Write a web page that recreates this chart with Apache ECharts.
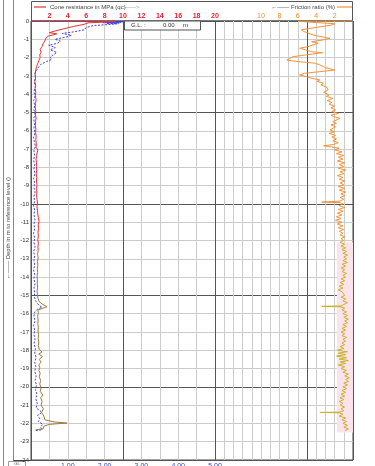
<!DOCTYPE html>
<html><head><meta charset="utf-8">
<script src="https://cdn.jsdelivr.net/npm/echarts@6/dist/echarts.min.js"></script>
<style>html,body{margin:0;padding:0;background:#fff}#c{width:375px;height:466px}</style>
</head><body><div id="c"></div>
<script>
// ---------- DATA ----------
const qcTicks = [2, 4, 6, 8, 10, 12, 14, 16, 18, 20];
const frTicks = [2, 4, 6, 8, 10];
const fsTicks = [1, 2, 3, 4, 5];
// [depth (m), cone resistance qc (MPa)]
const qcUpper = [[0.00,0.0],[0.01,6.0],[0.03,9.2],[0.06,8.0],[0.10,6.2],[0.18,5.8],[0.30,4.6],[0.42,3.6],[0.55,2.6],[0.64,2.0],[0.70,2.8],[0.76,2.4],[0.82,1.9],[0.95,1.6],[1.10,1.5],[1.25,1.3],[1.40,1.2],[1.55,1.0],[1.70,1.1],[1.85,0.95],[2.00,1.0],[2.15,0.85],[2.30,0.75],[2.50,0.6],[2.70,0.5],[2.90,0.45],[3.10,0.5],[3.30,0.42],[3.50,0.5],[3.70,0.45],[3.90,0.52],[4.10,0.47],[4.30,0.55],[4.50,0.5],[4.70,0.45],[4.90,0.52],[5.10,0.48],[5.30,0.55],[5.50,0.5],[5.70,0.47],[5.90,0.53],[6.10,0.5],[6.30,0.56],[6.50,0.52],[6.70,0.58],[6.90,0.55],[7.05,0.75],[7.15,0.55],[7.35,0.6],[7.55,0.55],[7.75,0.6],[7.95,0.58],[8.15,0.62],[8.35,0.57],[8.55,0.62],[8.75,0.6],[8.95,0.65],[9.15,0.6],[9.35,0.64],[9.55,0.6],[9.75,0.66],[9.95,0.7],[10.15,0.65],[10.35,0.7],[10.55,0.74],[10.75,0.8],[10.95,0.88],[11.15,0.78],[11.35,0.82],[11.55,0.76],[11.75,0.8],[11.95,0.74],[12.15,0.8],[12.35,0.75],[12.55,0.78]];
const qcLower = [[12.55,0.78],[12.75,0.72],[12.95,0.78],[13.15,0.7],[13.35,0.75],[13.55,0.68],[13.75,0.72],[13.95,0.66],[14.15,0.7],[14.35,0.68],[14.55,0.72],[14.75,0.66],[14.95,0.7],[15.15,0.75],[15.35,0.9],[15.50,1.3],[15.62,1.75],[15.72,1.2],[15.80,0.75],[15.95,0.8],[16.15,0.72],[16.35,0.78],[16.55,0.74],[16.75,0.8],[16.95,0.76],[17.15,0.82],[17.35,0.78],[17.55,0.85],[17.75,0.8],[17.95,0.9],[18.10,1.2],[18.20,0.85],[18.35,1.25],[18.50,0.9],[18.65,1.1],[18.80,0.85],[18.95,0.95],[19.10,0.85],[19.25,1.0],[19.45,0.9],[19.65,1.05],[19.85,0.95],[20.05,1.1],[20.25,1.0],[20.45,1.3],[20.60,1.05],[20.80,1.2],[21.00,1.1],[21.20,1.35],[21.40,1.15],[21.60,1.4],[21.80,1.5],[21.92,2.5],[21.98,3.9],[22.05,2.0],[22.15,1.4],[22.30,1.3],[22.35,0.5]];
// [depth (m), blue dashed trace (bottom axis units)]
const fsTrace = [[0.00,0.05],[0.01,2.3],[0.03,1.9],[0.04,2.5],[0.06,2.0],[0.07,2.45],[0.09,1.95],[0.11,2.4],[0.13,2.05],[0.15,2.35],[0.18,2.2],[0.25,1.7],[0.35,1.5],[0.48,1.45],[0.58,1.2],[0.68,0.85],[0.78,1.1],[0.88,0.95],[1.00,0.65],[1.10,0.8],[1.22,0.72],[1.32,0.48],[1.45,0.66],[1.58,0.52],[1.72,0.7],[1.85,0.6],[1.98,0.52],[2.10,0.56],[2.22,0.42],[2.38,0.26],[2.55,0.2],[2.72,0.14],[2.90,0.1],[3.10,0.12],[3.35,0.09],[3.6,0.12],[3.85,0.08],[4.1,0.11],[4.35,0.07],[4.6,0.1],[4.85,0.08],[5.1,0.11],[5.35,0.07],[5.6,0.1],[5.85,0.08],[6.1,0.11],[6.35,0.07],[6.6,0.09],[6.85,0.12],[7.1,0.08],[7.35,0.1],[7.6,0.07],[7.85,0.1],[8.1,0.08],[8.35,0.11],[8.6,0.07],[8.85,0.1],[9.1,0.08],[9.35,0.11],[9.6,0.08],[9.85,0.1],[10.1,0.07],[10.35,0.1],[10.6,0.08],[10.85,0.11],[11.1,0.08],[11.35,0.1],[11.6,0.07],[11.85,0.1],[12.1,0.08],[12.35,0.11],[12.6,0.07],[12.85,0.1],[13.1,0.08],[13.35,0.1],[13.6,0.07],[13.85,0.1],[14.1,0.08],[14.35,0.11],[14.6,0.08],[14.85,0.1],[15.1,0.09],[15.35,0.14],[15.55,0.22],[15.65,0.3],[15.75,0.18],[15.9,0.1],[16.15,0.08],[16.4,0.11],[16.65,0.07],[16.9,0.1],[17.15,0.08],[17.4,0.11],[17.65,0.08],[17.9,0.12],[18.15,0.1],[18.4,0.14],[18.65,0.1],[18.9,0.13],[19.15,0.1],[19.4,0.14],[19.65,0.11],[19.9,0.15],[20.15,0.12],[20.4,0.16],[20.65,0.13],[20.9,0.17],[21.15,0.14],[21.4,0.3],[21.55,0.18],[21.75,0.24],[21.9,0.2],[22.05,0.32],[22.2,0.26],[22.35,0.3],[22.4,0.1]];
// [depth (m), friction ratio (%)]
const frUpper = [[0.00,0.0],[0.02,5.9],[0.08,5.9],[0.15,2.0],[0.22,2.3],[0.35,4.0],[0.49,5.6],[0.58,5.3],[0.67,5.5],[0.77,4.3],[0.95,2.5],[1.05,3.4],[1.13,4.5],[1.22,3.8],[1.40,4.9],[1.49,5.8],[1.60,5.0],[1.68,4.5],[1.73,3.3],[1.86,5.2],[1.95,6.5],[2.05,6.9],[2.13,7.2],[2.20,6.3],[2.25,5.3],[2.31,4.1],[2.40,3.6],[2.55,3.0],[2.68,2.0],[2.77,3.6],[2.86,5.3],[2.95,5.8],[3.05,5.0],[3.13,4.5],[3.22,3.6],[3.30,3.9],[3.40,3.2],[3.50,3.5],[3.60,2.9],[3.70,3.1],[3.77,2.7],[3.90,3.2],[4.04,2.6],[4.12,2.9],[4.23,2.2],[4.35,2.8],[4.45,2.3],[4.55,2.6],[4.65,2.0],[4.75,2.4],[4.86,1.9],[4.95,2.3],[5.05,1.6],[5.15,2.4],[5.23,2.1],[5.32,1.4],[5.41,1.2],[5.50,2.2],[5.60,1.8],[5.68,2.4],[5.78,1.9],[5.86,1.7],[5.96,2.5],[6.05,2.0],[6.15,2.6],[6.25,1.9],[6.35,2.3],[6.45,1.8],[6.55,2.2],[6.65,1.6],[6.75,2.1],[6.82,3.2],[6.88,2.4],[6.95,1.5],[7.05,2.0],[7.15,1.2],[7.25,1.8],[7.35,1.0],[7.45,1.6],[7.55,1.1],[7.65,1.7],[7.75,0.9],[7.85,1.5],[7.95,1.0],[8.05,1.6],[8.15,0.8],[8.25,1.4],[8.35,1.0],[8.45,1.7],[8.55,1.1],[8.65,1.5],[8.75,0.9],[8.85,1.4],[8.95,1.0],[9.05,1.6],[9.15,0.9],[9.25,1.5],[9.35,0.8],[9.45,1.3],[9.55,0.9],[9.65,1.4],[9.75,1.0],[9.85,1.5],[9.90,3.4],[9.93,1.4],[10.00,1.1],[10.10,1.5],[10.20,0.9],[10.30,1.6],[10.40,1.1],[10.50,1.7],[10.60,1.2],[10.70,1.8],[10.80,1.3],[10.90,1.9],[11.00,1.2],[11.10,1.7],[11.20,1.1],[11.30,1.6],[11.40,1.0],[11.50,1.5],[11.60,1.1],[11.70,1.4],[11.80,0.9],[11.90,1.3]];
const frLower = [[11.90,1.3],[12.00,1.0],[12.10,1.4],[12.20,0.9],[12.30,1.3],[12.40,0.8],[12.50,1.2],[12.60,0.7],[12.70,1.1],[12.80,0.6],[12.90,1.0],[13.00,0.7],[13.10,1.1],[13.20,0.6],[13.30,1.2],[13.40,0.8],[13.50,1.3],[13.60,0.9],[13.70,1.2],[13.80,0.7],[13.90,1.1],[14.00,0.8],[14.10,1.3],[14.20,0.9],[14.30,1.4],[14.40,1.0],[14.50,1.5],[14.60,1.1],[14.70,1.6],[14.80,1.2],[14.90,1.4],[15.00,0.9],[15.10,1.3],[15.20,0.8],[15.30,1.1],[15.40,0.6],[15.50,1.0],[15.58,1.3],[15.60,3.4],[15.62,1.4],[15.70,0.9],[15.80,1.2],[15.90,0.7],[16.00,1.1],[16.10,0.6],[16.20,1.0],[16.30,0.5],[16.40,0.9],[16.50,0.6],[16.60,1.1],[16.70,0.7],[16.80,1.2],[16.90,0.8],[17.00,1.3],[17.10,0.9],[17.20,1.2],[17.30,0.7],[17.40,1.1],[17.50,0.8],[17.60,1.2],[17.70,0.9],[17.80,1.4],[17.90,1.0],[18.00,1.7],[18.08,0.6],[18.16,1.6],[18.24,0.8],[18.32,1.8],[18.40,0.7],[18.48,1.5],[18.56,0.5],[18.64,1.4],[18.72,0.8],[18.80,1.6],[18.90,0.9],[19.00,1.3],[19.10,0.7],[19.20,1.1],[19.30,0.5],[19.40,0.9],[19.50,0.4],[19.60,0.8],[19.70,0.5],[19.80,1.0],[19.90,0.6],[20.00,1.1],[20.10,0.7],[20.20,1.2],[20.30,0.8],[20.40,1.3],[20.50,0.9],[20.60,1.4],[20.70,1.0],[20.80,1.5],[20.90,1.1],[21.00,1.4],[21.10,0.9],[21.20,1.3],[21.30,1.0],[21.38,1.4],[21.40,3.6],[21.42,1.5],[21.50,1.1],[21.60,1.5],[21.70,0.8],[21.80,1.2],[21.90,0.7],[22.00,1.1],[22.10,0.6],[22.20,1.0],[22.30,0.5],[22.40,0.9]];
// shaded layer band: depth range and friction ratio extent
const layerBand = { depthFrom: 12.1, depthTo: 22.5, frFrom: 0, frTo: 1.75 };

// ---------- CHART ----------
const FONT = 'Liberation Sans';
const toXY = arr => arr.map(p => [p[1], p[0]]);
const thinColors = [];
for (let v = 0; v <= 35; v++) {
  thinColors.push((v >= 20 || v % 2 === 0) ? '#cccccc' : 'rgba(0,0,0,0)');
}
const chart = echarts.init(document.getElementById('c'), null, { renderer: 'canvas' });
const baseX = { type: 'value', min: 0, max: 35, axisLine: { show: false }, axisTick: { show: false } };
chart.setOption({
  animation: false,
  textStyle: { fontFamily: FONT },
  grid: { left: 31, right: 22, top: 21, bottom: 6, containLabel: false, outerBoundsMode: 'none',
    show: true, borderColor: '#444', borderWidth: 1, backgroundColor: 'transparent' },
  xAxis: [
    Object.assign({}, baseX, { position: 'top', interval: 2, splitLine: { show: false },
      axisLabel: { color: '#e8202a', fontSize: 7, fontWeight: 'bold', margin: 1, fontFamily: FONT,
        formatter: v => qcTicks.includes(v) ? String(v) : '' } }),
    Object.assign({}, baseX, { position: 'top', inverse: true, interval: 2, splitLine: { show: false },
      axisLabel: { color: '#f08a2a', fontSize: 7, margin: 1, fontFamily: FONT,
        formatter: v => frTicks.includes(v) ? String(v) : '' } }),
    { type: 'value', min: 0, max: 8.75, interval: 1, position: 'bottom', axisLine: { show: false }, axisTick: { show: false }, splitLine: { show: false },
      axisLabel: { color: '#3344cc', fontSize: 7, margin: 3, fontFamily: FONT,
        formatter: v => fsTicks.includes(v) ? v.toFixed(2) : '' } },
    Object.assign({}, baseX, { position: 'bottom', interval: 1, axisLabel: { show: false },
      splitLine: { show: true, lineStyle: { color: thinColors, width: 1 } } }),
    Object.assign({}, baseX, { position: 'bottom', interval: 10, axisLabel: { show: false },
      splitLine: { show: true, lineStyle: { color: '#555', width: 1 } } })
  ],
  yAxis: [
    { type: 'value', inverse: true, min: 0, max: 24, interval: 1, axisLine: { show: false }, axisTick: { show: false },
      axisLabel: { color: '#333', fontSize: 6, margin: 2, fontFamily: FONT, formatter: v => v === 0 ? '0' : '-' + v },
      splitLine: { show: true, lineStyle: { color: '#cccccc', width: 1 } } },
    { type: 'value', inverse: true, min: 0, max: 24, interval: 5, axisLine: { show: false }, axisTick: { show: false },
      axisLabel: { show: false }, splitLine: { show: true, lineStyle: { color: '#555', width: 1 } } }
  ],
  series: [
    { type: 'line', xAxisIndex: 1, yAxisIndex: 0, data: toXY(frLower), showSymbol: false, silent: true,
      lineStyle: { color: '#c9b324', width: 1 },
      markArea: { silent: true, itemStyle: { color: '#fbe3ee' },
        data: [[{ xAxis: layerBand.frFrom, yAxis: layerBand.depthFrom }, { xAxis: layerBand.frTo, yAxis: layerBand.depthTo }]] } },
    { type: 'line', xAxisIndex: 1, yAxisIndex: 0, data: toXY(frUpper), showSymbol: false, silent: true,
      lineStyle: { color: '#f39238', width: 1 } },
    { type: 'line', xAxisIndex: 2, yAxisIndex: 0, data: toXY(fsTrace), showSymbol: false, silent: true,
      lineStyle: { color: '#3f3fe0', width: 1, type: [2, 1.5] } },
    { type: 'line', xAxisIndex: 0, yAxisIndex: 0, data: toXY(qcLower), showSymbol: false, silent: true,
      lineStyle: { color: '#9a7b3c', width: 1 } },
    { type: 'line', xAxisIndex: 0, yAxisIndex: 0, data: toXY(qcUpper), showSymbol: false, silent: true,
      lineStyle: { color: '#e8302c', width: 1 } }
  ],
  graphic: [
    { type: 'line', silent: true, shape: { x1: 3.5, y1: 0, x2: 3.5, y2: 466 }, style: { stroke: '#888', lineWidth: 1 } },
    { type: 'line', silent: true, shape: { x1: 13.5, y1: 0, x2: 13.5, y2: 466 }, style: { stroke: '#888', lineWidth: 1 } },
    { type: 'line', silent: true, shape: { x1: 13.5, y1: 460.5, x2: 31, y2: 460.5 }, style: { stroke: '#444', lineWidth: 1 } },
    { type: 'rect', silent: true, shape: { x: 31.5, y: 1.5, width: 321, height: 19.5 }, style: { fill: 'none', stroke: '#555', lineWidth: 1 } },
    { type: 'line', silent: true, shape: { x1: 34, y1: 7, x2: 46, y2: 7 }, style: { stroke: '#e8302c', lineWidth: 1.2 } },
    { type: 'text', silent: true, x: 50, y: 7, style: { text: 'Cone resistance in MPa (qc)', fontSize: 6, fontFamily: FONT, fill: '#444', verticalAlign: 'middle' } },
    { type: 'text', silent: true, x: 124, y: 7, style: { text: '——>', fontSize: 6, fontFamily: FONT, fill: '#999', verticalAlign: 'middle' } },
    { type: 'text', silent: true, x: 335, y: 7, style: { text: '←—— Friction ratio (%)', fontSize: 6, fontFamily: FONT, fill: '#444', align: 'right', verticalAlign: 'middle' } },
    { type: 'line', silent: true, shape: { x1: 337, y1: 7, x2: 352, y2: 7 }, style: { stroke: '#f39238', lineWidth: 1.2 } },
    { type: 'rect', silent: true, z: 10, shape: { x: 124.5, y: 21, width: 76, height: 9 }, style: { fill: '#fff', stroke: '#555', lineWidth: 1 } },
    { type: 'text', silent: true, z: 11, x: 131, y: 25.5, style: { text: 'G.L. :', fontSize: 6, fontFamily: FONT, fill: '#333', verticalAlign: 'middle' } },
    { type: 'text', silent: true, z: 11, x: 163, y: 25.5, style: { text: '0.00', fontSize: 6, fontFamily: FONT, fill: '#333', verticalAlign: 'middle' } },
    { type: 'text', silent: true, z: 11, x: 183, y: 25.5, style: { text: 'm', fontSize: 6, fontFamily: FONT, fill: '#333', verticalAlign: 'middle' } },
    { type: 'text', silent: true, x: 8.5, y: 228, rotation: Math.PI / 2, style: { text: '←—— Depth in m to reference level ()', fontSize: 6, fontFamily: FONT, fill: '#444', align: 'center', verticalAlign: 'middle' } },
    { type: 'rect', silent: true, shape: { x: 8.5, y: 461.5, width: 17, height: 6 }, style: { fill: '#fff', stroke: '#999', lineWidth: 1 } },
    { type: 'text', silent: true, x: 17, y: 464, style: { text: 'GL', fontSize: 4, fontFamily: FONT, fill: '#555', align: 'center', verticalAlign: 'middle' } }
  ]
});
</script></body></html>
